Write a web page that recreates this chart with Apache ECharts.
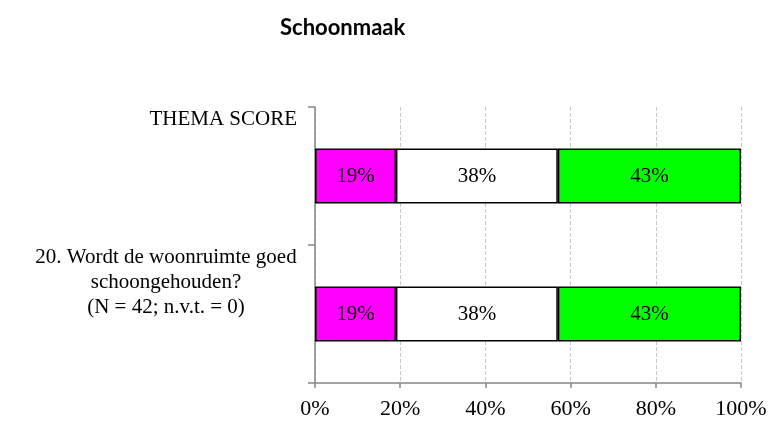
<!DOCTYPE html>
<html>
<head>
<meta charset="utf-8">
<script src="https://cdn.jsdelivr.net/npm/echarts@6/dist/echarts.min.js"></script>
<style>
  html, body { margin: 0; padding: 0; background: #fff; }
  #chart-schoonmaak { width: 776px; height: 421px; }
</style>
</head>
<body>
<div id="chart-schoonmaak"></div>
<script>
// Schoonmaak - stacked 100% bar
const categories = [
    'THEMA SCORE',
    '20. Wordt de woonruimte goed\nschoongehouden?\n(N = 42; n.v.t. = 0)'
];
const negatief = [19, 19];
const neutraal = [38, 38];
const positief = [43, 43];
const xTicks = [0, 20, 40, 60, 80, 100];

const serif = '"Liberation Serif", "DejaVu Serif", serif';
const axisGrey = '#868686';

const chart = echarts.init(document.getElementById('chart-schoonmaak'));

function barSeries(name, data, color) {
    return {
        name: name,
        type: 'bar',
        stack: 'total',
        barWidth: 55,
        data: data,
        itemStyle: { color: color, borderColor: '#000', borderWidth: 1.5 },
        label: {
            show: true,
            position: 'inside',
            formatter: '{c}%',
            color: '#000',
            fontFamily: serif,
            fontSize: 21
        }
    };
}

const option = {
    animation: false,
    title: {
        text: 'Schoonmaak',
        left: 275,
        top: 12,
        textStyle: { fontFamily: 'Lato, "Open Sans", sans-serif', fontWeight: 'bold', fontSize: 22, color: '#000' }
    },
    grid: { left: 315, right: 35, top: 107, bottom: 38 },
    xAxis: {
        type: 'value',
        min: xTicks[0],
        max: xTicks[xTicks.length - 1],
        interval: 20,
        axisLine: { show: true, onZero: false, lineStyle: { color: axisGrey, width: 1.5 } },
        axisTick: { show: true, length: 5, lineStyle: { color: axisGrey, width: 1.5 } },
        axisLabel: {
            formatter: '{value}%',
            color: '#000',
            fontFamily: serif,
            fontSize: 22,
            margin: 15
        },
        splitLine: { show: true, lineStyle: { color: '#c8c8c8', type: 'dashed', width: 1 } }
    },
    yAxis: [
        {
            type: 'category',
            data: categories,
            inverse: true,
            axisLine: { show: true, lineStyle: { color: axisGrey, width: 1.5 } },
            axisTick: { show: true, length: 7, lineStyle: { color: axisGrey, width: 1.5 } },
            axisLabel: { show: false },
            splitLine: { show: false }
        },
        {
            // value axis used only to place the labels at the top of each band
            type: 'value',
            position: 'left',
            min: 0,
            max: categories.length,
            interval: 1,
            inverse: true,
            axisLine: { show: false, onZero: false },
            axisTick: { show: false },
            splitLine: { show: false },
            axisLabel: {
                margin: 18,
                verticalAlign: 'top',
                color: '#000',
                fontFamily: serif,
                fontSize: 21,
                lineHeight: 25,
                formatter: function (v) {
                    const txt = categories[v];
                    if (!txt) return '';
                    if (txt.indexOf('\n') < 0) return txt;
                    return txt.split('\n').map(s => '{c|' + s + '}').join('\n');
                },
                rich: {
                    c: { width: 262, align: 'center', fontFamily: serif, fontSize: 21, lineHeight: 25, color: '#000' }
                }
            }
        }
    ],
    series: [
        barSeries('Negatief', negatief, '#ff00ff'),
        barSeries('Neutraal', neutraal, '#ffffff'),
        barSeries('Positief', positief, '#00ff00')
    ]
};

chart.setOption(option);
window.addEventListener('resize', () => chart.resize());
</script>
</body>
</html>
